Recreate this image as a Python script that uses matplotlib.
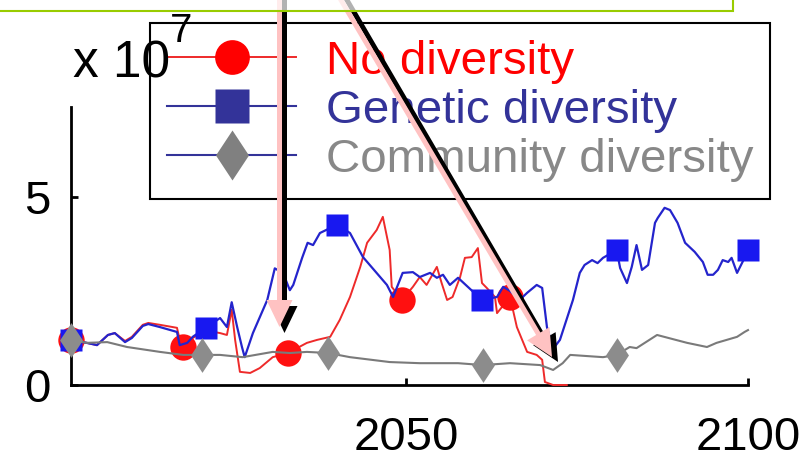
import matplotlib
matplotlib.use("Agg")
import matplotlib.pyplot as plt
from matplotlib.lines import Line2D
from matplotlib.path import Path
from matplotlib.patches import Rectangle, FancyArrow

plt.rcParams['font.family'] = ['Liberation Sans', 'DejaVu Sans']

# ---- Population size trajectories (units of 1e7) ----
no_div_years = [2001.0, 2003.3, 2004.8, 2006.4, 2007.4, 2008.9, 2009.9, 2011.5, 2012.3,
                2014.0, 2016.5, 2016.9, 2017.4, 2018.0, 2018.8, 2020.7, 2022.8, 2023.8,
                2024.5, 2025.0, 2025.7, 2027.2, 2028.6, 2030.5, 2032.7, 2035.5, 2037.0,
                2038.9, 2040.3, 2041.8, 2043.3, 2044.3, 2045.7, 2046.6, 2047.2, 2047.6,
                2047.9, 2049.4, 2051.0, 2052.0, 2053.0, 2054.5, 2055.2, 2056.0, 2056.8,
                2057.9, 2058.6, 2059.6, 2060.5, 2061.1, 2061.8, 2063.0, 2063.3, 2065.2,
                2066.2, 2067.7, 2069.1, 2069.9, 2070.3, 2071.5, 2073.5]
no_div_values = [1.20, 1.12, 1.06, 1.33, 1.38, 1.17, 1.28, 1.60, 1.65,
                 1.60, 1.52, 1.20, 1.00, 1.10, 1.25, 1.45, 1.38, 1.33,
                 2.00, 1.20, 0.35, 0.32, 0.45, 0.74, 0.85, 1.12, 1.20,
                 1.28, 1.73, 2.34, 3.14, 3.78, 4.12, 4.47, 3.94, 3.59,
                 2.61, 2.26, 2.61, 2.87, 2.66, 3.14, 2.71, 2.26, 2.34,
                 2.87, 3.38, 3.40, 3.64, 2.71, 2.58, 2.34, 1.91, 2.34,
                 1.54, 0.88, 0.80, 0.67, 0.08, 0.00, 0.00]
no_div_marker_years = [2001.0, 2017.4, 2032.7, 2049.4, 2065.2]

genetic_years = [2001.0, 2003.3, 2004.8, 2006.4, 2007.4, 2008.9, 2009.9, 2011.5, 2012.3,
                 2014.0, 2016.5, 2016.9, 2018.0, 2018.8, 2020.7, 2022.8, 2023.8, 2024.5,
                 2025.3, 2026.0, 2026.4, 2027.6, 2029.7, 2030.8, 2032.0, 2033.0, 2033.5,
                 2034.8, 2035.6, 2036.4, 2037.4, 2039.9, 2041.8, 2043.7, 2047.2, 2048.1,
                 2049.5, 2051.0, 2052.0, 2053.5, 2054.5, 2055.4, 2056.4, 2057.6, 2061.1,
                 2063.3, 2064.2, 2065.2, 2066.6, 2067.7, 2069.1, 2069.9, 2070.6, 2071.5,
                 2072.5, 2074.4, 2075.4, 2076.1, 2077.2, 2078.0, 2078.8, 2080.8, 2081.3,
                 2082.3, 2083.0, 2083.7, 2084.5, 2085.4, 2086.4, 2086.8, 2087.8, 2088.6,
                 2089.7, 2090.8, 2092.2, 2093.4, 2094.1, 2094.9, 2095.6, 2096.3, 2097.1,
                 2097.6, 2098.4, 2099.2, 2100.0]
genetic_values = [1.20, 1.12, 1.06, 1.33, 1.38, 1.14, 1.25, 1.57, 1.62,
                  1.54, 1.41, 1.06, 1.12, 1.28, 1.52, 1.78, 1.54, 2.20,
                  1.54, 1.01, 0.74, 1.38, 2.26, 3.10, 2.98, 2.52, 2.66,
                  3.38, 3.78, 3.72, 4.04, 4.26, 4.04, 3.40, 2.66, 2.34,
                  2.98, 3.00, 2.87, 2.98, 2.85, 2.93, 2.66, 2.85, 2.26,
                  2.34, 2.61, 2.50, 2.26, 2.45, 2.66, 2.58, 1.54, 0.96,
                  1.20, 2.26, 2.98, 3.19, 3.32, 3.24, 3.38, 3.59, 3.11,
                  2.71, 3.14, 3.72, 3.06, 3.19, 4.31, 4.44, 4.71, 4.65,
                  4.31, 3.78, 3.54, 3.27, 2.93, 2.93, 3.06, 3.32, 3.27,
                  3.38, 2.98, 3.27, 3.59]
genetic_marker_years = [2001.0, 2020.7, 2039.9, 2061.1, 2080.8, 2100.0]

community_years = [2001.0, 2003.3, 2006.3, 2009.2, 2014.0, 2017.4, 2020.2, 2022.8, 2026.1,
                   2030.5, 2033.0, 2035.5, 2038.6, 2041.8, 2047.6, 2052.0, 2054.9, 2057.6,
                   2061.2, 2065.2, 2069.6, 2071.5, 2072.9, 2074.0, 2078.8, 2080.8, 2082.7,
                   2083.7, 2086.7, 2091.1, 2094.0, 2095.4, 2096.9, 2098.4, 2099.5, 2100.0]
community_values = [1.20, 1.12, 1.14, 1.01, 0.88, 0.80, 0.80, 0.80, 0.74,
                    0.88, 0.85, 0.88, 0.85, 0.74, 0.61, 0.58, 0.58, 0.58,
                    0.53, 0.58, 0.53, 0.40, 0.58, 0.80, 0.74, 0.80, 1.01,
                    0.98, 1.33, 1.12, 1.01, 1.12, 1.20, 1.28, 1.41, 1.46]
community_marker_years = [2001.0, 2020.2, 2038.6, 2061.2, 2080.8]

series_labels = ["No diversity", "Genetic diversity", "Community diversity"]
x_ticks = [2050, 2100]
y_ticks = [0, 5]

W, H = 811, 458
fig = plt.figure(figsize=(W / 100, H / 100), dpi=100)
ax = fig.add_axes([71 / W, 1 - 385 / H, (748 - 71) / W, (385 - 107) / H])

# a diamond that is about two thirds as wide as it is tall
diamond = Path([(0, 1), (0.66, 0), (0, -1), (-0.66, 0), (0, 1)],
               [Path.MOVETO, Path.LINETO, Path.LINETO, Path.LINETO, Path.CLOSEPOLY])


def marks(years, marker_years):
    return [years.index(y) for y in marker_years]


ax.plot(no_div_years, no_div_values, color='#ee2a2a', lw=1.4,
        marker='o', ms=19, mfc='#ff1010', mec='none',
        markevery=marks(no_div_years, no_div_marker_years), clip_on=False, zorder=3)
ax.plot(genetic_years, genetic_values, color='#2424cc', lw=1.6,
        marker='s', ms=16.5, mfc='#1818f0', mec='none',
        markevery=marks(genetic_years, genetic_marker_years), clip_on=False, zorder=4)
ax.plot(community_years, community_values, color='#7a7a7a', lw=1.5,
        marker=diamond, ms=25, mfc='#8c8c8c', mec='none',
        markevery=marks(community_years, community_marker_years), clip_on=False, zorder=5)

ax.set_xlim(2001, 2100)
ax.set_ylim(0, 7.39)
for side in ('top', 'right'):
    ax.spines[side].set_visible(False)
for side in ('left', 'bottom'):
    ax.spines[side].set_linewidth(2.0)
ax.set_xticks(x_ticks)
ax.set_yticks(y_ticks)
ax.set_xticklabels([str(t) for t in x_ticks])
ax.set_yticklabels([str(t) for t in y_ticks])
ax.tick_params(axis='both', direction='in', length=5, width=2, labelsize=34)
ax.tick_params(axis='y', pad=15)
ax.tick_params(axis='x', pad=22)

# exponent label for the y axis
fig.text(73 / W, 1 - 77 / H, "x 10", fontsize=37, va='baseline', ha='left')
fig.text(170 / W, 1 - 42 / H, "7", fontsize=29, va='baseline', ha='left')

# legend
handles = [
    Line2D([], [], color='#ee2a2a', lw=1.4, marker='o', ms=25, mfc='#ff0000', mec='none'),
    Line2D([], [], color='#333399', lw=1.5, marker='s', ms=25, mfc='#333399', mec='none'),
    Line2D([], [], color='#333399', lw=1.5, marker=diamond, ms=36, mfc='#808080', mec='none'),
]
leg = ax.legend(handles, series_labels, loc='upper left',
                bbox_to_anchor=(150 / W, 1 - 23 / H), bbox_transform=fig.transFigure,
                borderaxespad=0, fontsize=34.2, handlelength=2.72, handletextpad=0.62,
                borderpad=0.36, labelspacing=0.1, fancybox=False, framealpha=1,
                edgecolor='black')
leg.get_frame().set_linewidth(1.5)
for txt, col in zip(leg.get_texts(), ['#ff0000', '#333399', '#888888']):
    txt.set_color(col)
leg.set_zorder(10)

# callout arrows and box, in pixel coordinates
ov = fig.add_axes([0, 0, 1, 1], zorder=20)
ov.set_xlim(0, W)
ov.set_ylim(H, 0)
ov.axis('off')
ov.patch.set_visible(False)

arrow_kw = dict(width=5, head_width=26, head_length=27, length_includes_head=True, lw=0)
ov.add_patch(FancyArrow(284.5, -5, 0, 338, color='black', **arrow_kw))
ov.add_patch(FancyArrow(279.5, -5, 0, 332, color='#ffc2c2', **arrow_kw))
ov.add_patch(FancyArrow(344, -5, 214, 367, color='black', **arrow_kw))
ov.add_patch(FancyArrow(338, -5, 214, 362, color='#ffc2c2', **arrow_kw))

ov.add_patch(Rectangle((-10, -10), 743, 20.5, facecolor=(1, 1, 1, 0.7),
                       edgecolor='#99cc00', lw=1.5))

fig.savefig("out.png", dpi=100)
